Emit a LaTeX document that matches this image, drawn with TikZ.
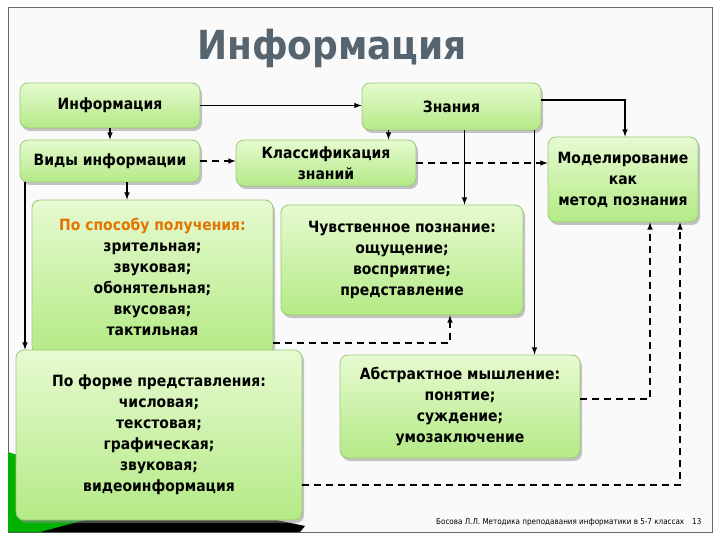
\documentclass[tikz,border=0pt]{standalone}
\usepackage{fontspec}
\setmainfont{DejaVu Sans Condensed}
\usetikzlibrary{shadows}
\definecolor{gtop}{HTML}{E6FAD0}
\definecolor{gbot}{HTML}{B4EA86}
\definecolor{gedge}{HTML}{9CC87A}
\definecolor{ttl}{HTML}{56646F}
\tikzset{
 bx/.style={draw=gedge,line width=0.8pt,rounded corners=8pt,top color=gtop,bottom color=gbot,
   drop shadow={shadow xshift=2pt,shadow yshift=-3pt,fill=black!45},align=center,font=\bfseries\fontsize{15.5}{21}\selectfont,inner sep=0pt},
 sl/.style={line width=1.5pt,-latex},
 dl/.style={line width=1.5pt,dash pattern=on 7pt off 5pt,-latex},
}
\begin{document}
\begin{tikzpicture}[x=1pt,y=-1pt]
\useasboundingbox (0,0) rectangle (720,540);
\fill[white] (0,0) rectangle (720,540);
\fill[black!2] (8,8) rectangle (712,532);
\draw[black!60,line width=1pt] (8,8) rectangle (712,532);
\fill[green!55!black] (8,455) -- (8,532) -- (250,532) -- cycle;
\fill[black] (40,470) -- (8,532) -- (300,532) -- (305,526) -- cycle;
\fill[green!70!black] (8,452) -- (8,532) -- (40,532) -- (160,500) -- cycle;
\node[font=\bfseries\fontsize{40}{42}\selectfont,text=ttl] (title) at (332,48) {Информация};
\node[bx,minimum width=180pt,minimum height=45pt] (inf) at (110,105.5) {Информация};
\node[bx,minimum width=179pt,minimum height=47pt] (zn) at (451.5,106.5) {Знания};
\node[bx,minimum width=180pt,minimum height=42pt] (vid) at (110,161) {Виды информации};
\node[bx,minimum width=180pt,minimum height=46pt] (kl) at (326,163) {Классификация\\знаний};
\node[bx,minimum width=150pt,minimum height=85pt] (mod) at (623,179.5) {Моделирование\\как\\метод познания};
\node[bx,minimum width=241pt,minimum height=154pt] (spo) at (152.5,277) {\textcolor{orange!90!black}{По способу получения:}\\зрительная;\\звуковая;\\обонятельная;\\вкусовая;\\тактильная};
\node[bx,minimum width=242pt,minimum height=110pt] (chu) at (402,260) {Чувственное познание:\\ощущение;\\восприятие;\\представление};
\node[bx,minimum width=240pt,minimum height=103pt] (abs) at (460,406.5) {Абстрактное мышление:\\понятие;\\суждение;\\умозаключение};
\node[bx,minimum width=286pt,minimum height=170pt] (frm) at (159,435) {По форме представления:\\числовая;\\текстовая;\\графическая;\\звуковая;\\видеоинформация};
\node[font=\fontsize{8}{9}\selectfont,anchor=east] (foot) at (705,522) {Босова Л.Л. Методика преподавания информатики в 5-7 классах\quad 13};
\coordinate (a1) at (625,100);
\coordinate (a2) at (450,343);
\coordinate (a3) at (650,399);
\coordinate (a4) at (680,485);
\draw[sl] (inf.east) -- (inf.east -| zn.west);
\draw[sl] (inf.south) -- (vid.north);
\draw[dl] (vid.east) -- (vid.east -| kl.west);
\draw[sl] ([xshift=-63pt]zn.south) -- ([xshift=-63pt]zn.south |- kl.north);
\draw[dl] (kl.east) -- (kl.east -| mod.west);
\draw[sl] (zn.east |- a1) -- (a1) -- (a1 |- mod.north);
\draw[sl] ([xshift=13pt]zn.south) -- ([xshift=13pt]zn.south |- chu.north);
\draw[sl] ([xshift=83pt]zn.south) -- ([xshift=83pt]zn.south |- abs.north);
\draw[sl] ([xshift=17pt]vid.south) -- ([xshift=17pt]vid.south |- spo.north);
\draw[sl] ([xshift=-85pt]vid.south) -- ([xshift=-85pt]vid.south |- frm.north);
\draw[dl] (spo.east |- a2) -- (a2) -- (a2 |- chu.south);
\draw[dl] (abs.east |- a3) -- (a3) -- (a3 |- mod.south);
\draw[dl] (frm.east |- a4) -- (a4) -- (a4 |- mod.south);
\end{tikzpicture}
\end{document}
